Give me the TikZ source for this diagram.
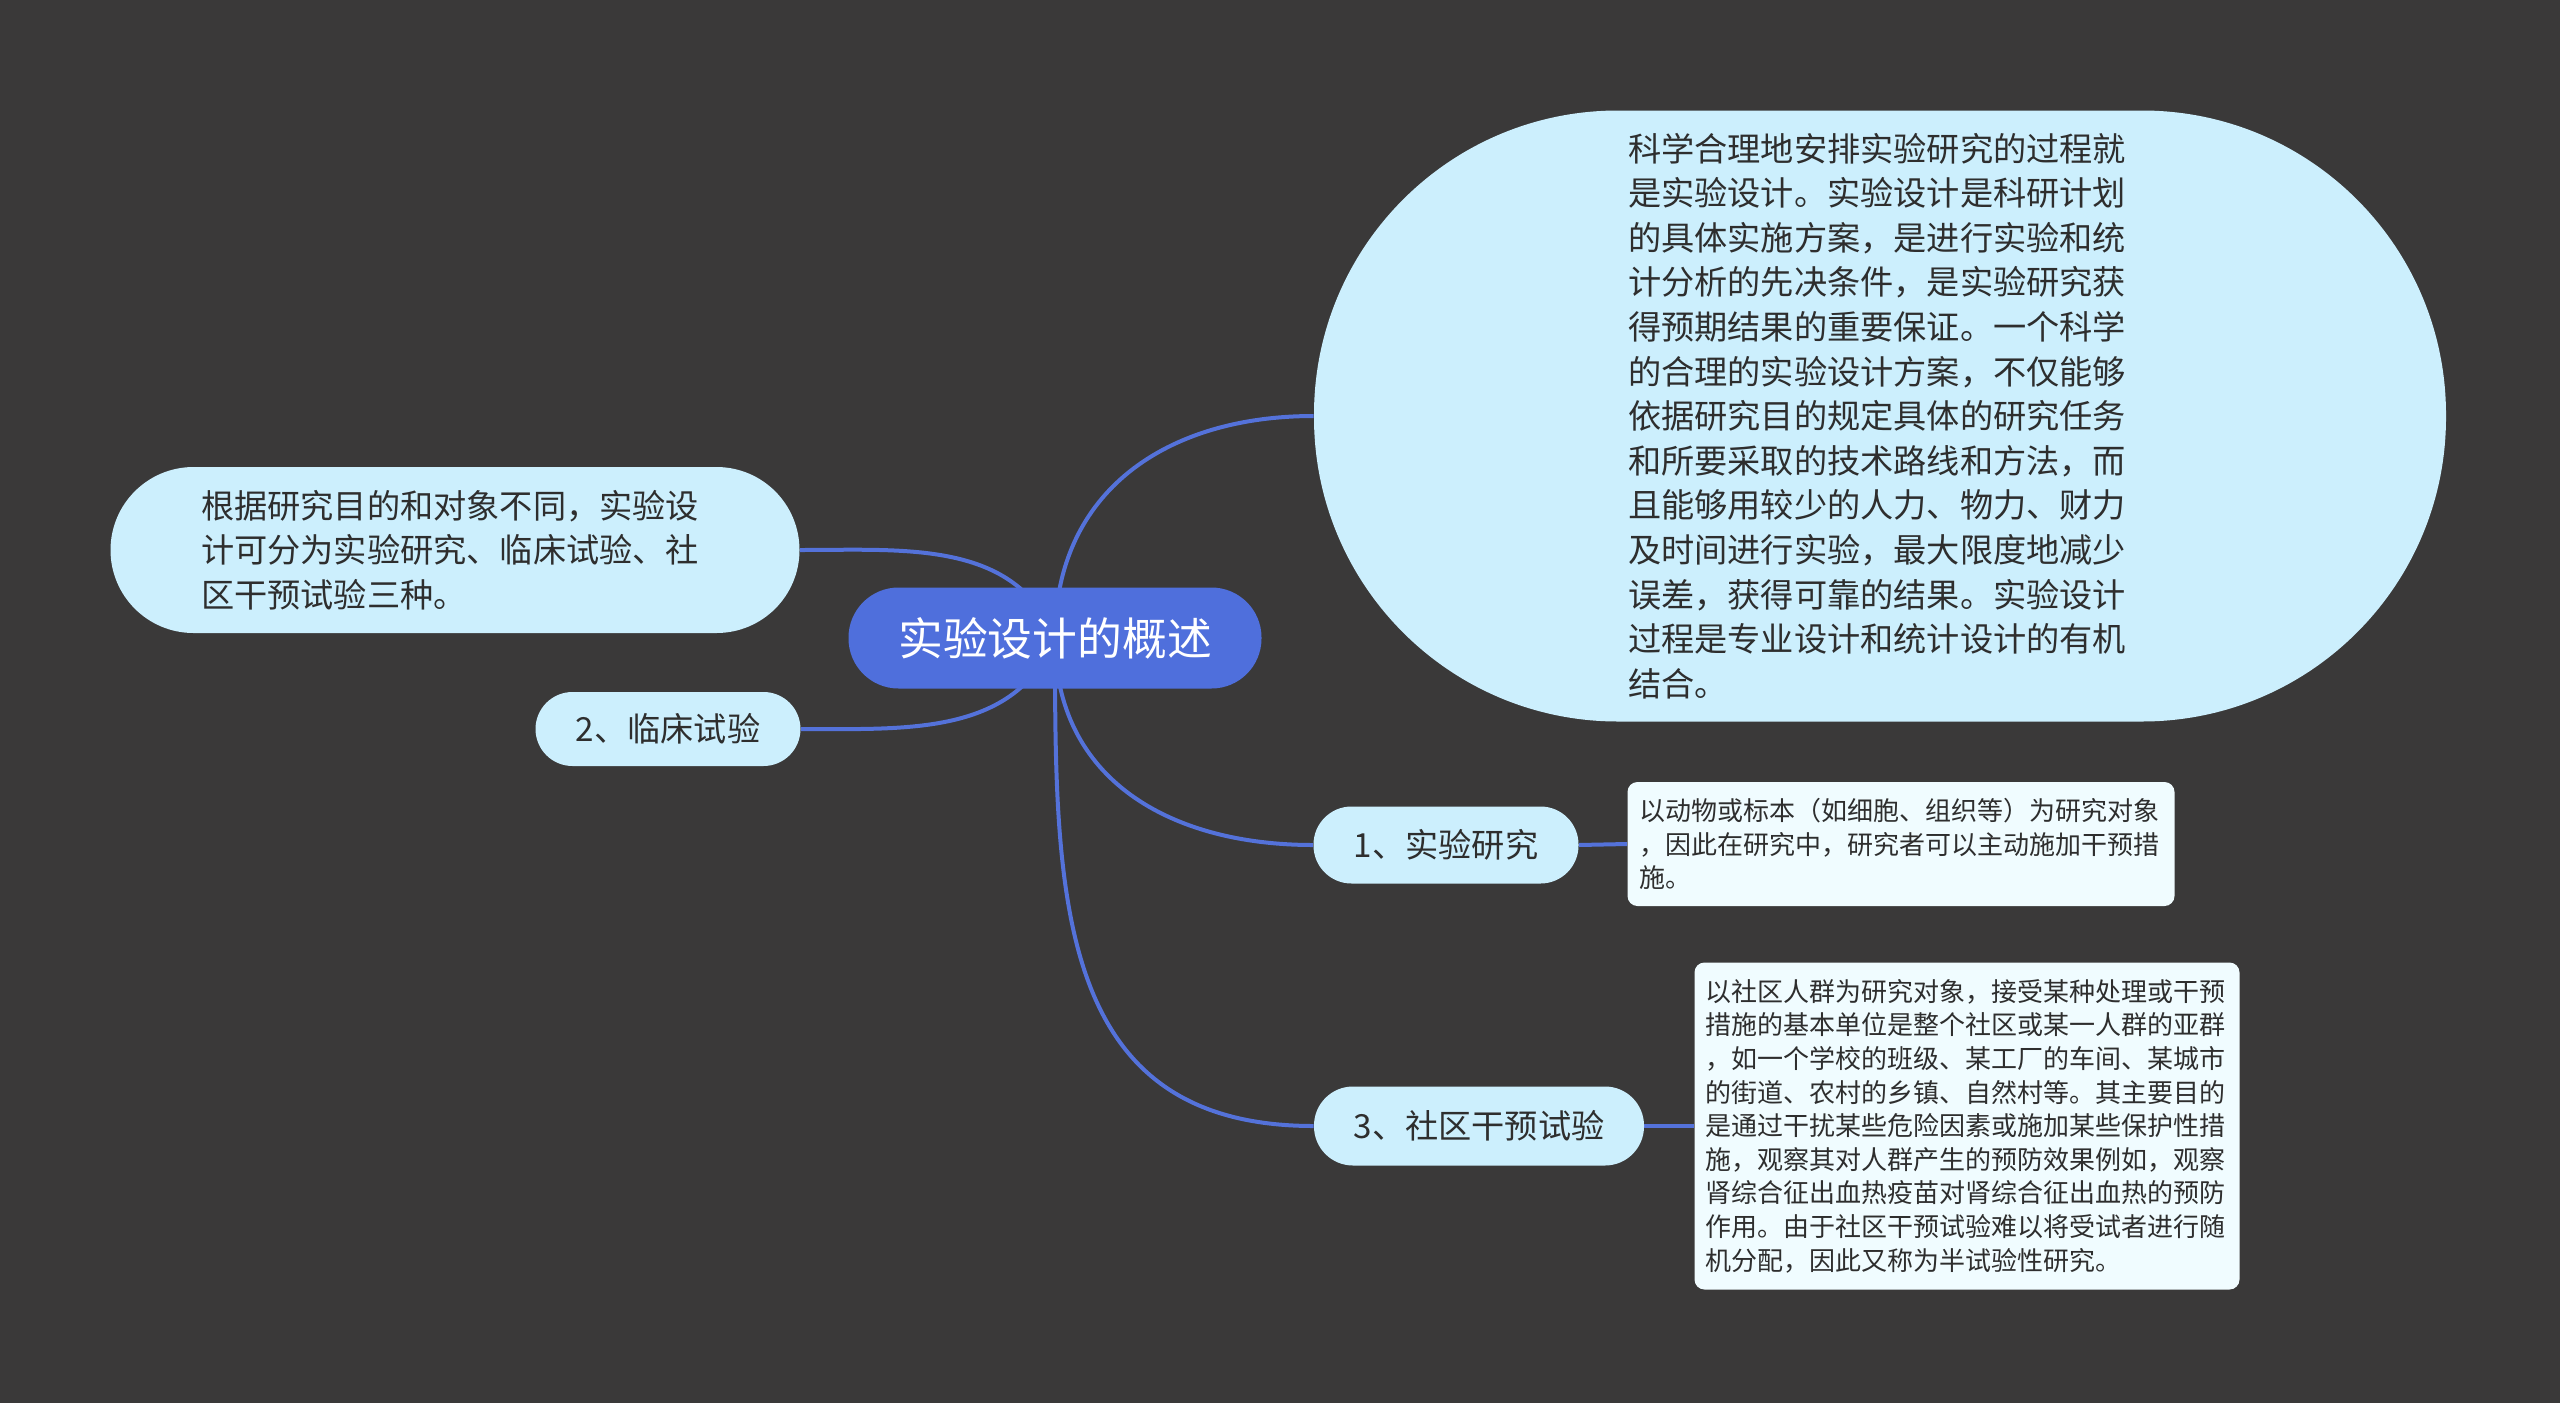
\documentclass[tikz,border=0pt]{standalone}
\usepackage{fontspec}
\setmainfont{Noto Sans CJK SC}
\usetikzlibrary{positioning,backgrounds}

\definecolor{bgdark}{HTML}{3A3939}
\definecolor{rootblue}{HTML}{4F6FDC}
\definecolor{linkblue}{HTML}{5472DA}
\definecolor{topicfill}{HTML}{CCEFFD}
\definecolor{notefill}{HTML}{F0FCFF}
\definecolor{inktext}{HTML}{2E2E2E}

\tikzset{
  rootnode/.style={fill=rootblue, text=white, inner sep=0pt,
    rounded corners=25pt, minimum width=206.5pt, minimum height=50.5pt,
    font=\fontsize{22.4}{26}\selectfont},
  topicnode/.style={fill=topicfill, text=inktext, inner sep=0pt, align=left,
    font=\fontsize{16.6}{22.3}\selectfont},
  notenode/.style={fill=notefill, text=inktext, inner sep=0pt, align=left,
    rounded corners=5pt, font=\fontsize{13}{16.8}\selectfont},
  link/.style={draw=linkblue, line width=2pt},
}

\begin{document}
\begin{tikzpicture}[x=0.5pt, y=-0.5pt]
  % background
  \begin{pgfonlayer}{background}
    \fill[bgdark] (0,0) rectangle (2560,1403);
  \end{pgfonlayer}

  % central topic
  \node[rootnode] (root) at (1055,638) {实验设计的概述};

  % main branches
  \node[topicnode, rounded corners=152pt, minimum width=566pt,
    minimum height=305.5pt, text width=252pt] (defn) at (1880,416)
    {科学合理地安排实验研究的过程就\\
     是实验设计。实验设计是科研计划\\
     的具体实施方案，是进行实验和统\\
     计分析的先决条件，是实验研究获\\
     得预期结果的重要保证。一个科学\\
     的合理的实验设计方案，不仅能够\\
     依据研究目的规定具体的研究任务\\
     和所要采取的技术路线和方法，而\\
     且能够用较少的人力、物力、财力\\
     及时间进行实验，最大限度地减少\\
     误差，获得可靠的结果。实验设计\\
     过程是专业设计和统计设计的有机\\
     结合。};
  \node[topicnode, rounded corners=41.5pt, minimum width=344.5pt,
    minimum height=83pt, text width=254pt] (kinds) at (455,550)
    {根据研究目的和对象不同，实验设\\
     计可分为实验研究、临床试验、社\\
     区干预试验三种。};
  \node[topicnode, rounded corners=18.5pt, minimum width=132.5pt,
    minimum height=37pt] (clinic) at (668,729) {2、临床试验};
  \node[topicnode, rounded corners=19pt, minimum width=132.5pt,
    minimum height=38.5pt] (lab) at (1446,845) {1、实验研究};
  \node[topicnode, rounded corners=19.5pt, minimum width=165pt,
    minimum height=39.5pt] (field) at (1479,1126) {3、社区干预试验};

  % notes
  \node[notenode, minimum width=273.5pt, minimum height=62pt,
    text width=262pt] (labnote) at (1901,844)
    {以动物或标本（如细胞、组织等）为研究对象\\
     ，因此在研究中，研究者可以主动施加干预措\\
     施。};
  \node[notenode, minimum width=272.5pt, minimum height=163.5pt,
    text width=262pt] (fieldnote) at (1967,1126)
    {以社区人群为研究对象，接受某种处理或干预\\
     措施的基本单位是整个社区或某一人群的亚群\\
     ，如一个学校的班级、某工厂的车间、某城市\\
     的街道、农村的乡镇、自然村等。其主要目的\\
     是通过干扰某些危险因素或施加某些保护性措\\
     施，观察其对人群产生的预防效果例如，观察\\
     肾综合征出血热疫苗对肾综合征出血热的预防\\
     作用。由于社区干预试验难以将受试者进行随\\
     机分配，因此又称为半试验性研究。};

  % connectors
  \begin{pgfonlayer}{background}
    \draw[link] (root.center) to[out=90, in=180, looseness=1.1] (defn.west);
    \draw[link] (root.center) to[out=-90, in=180, looseness=1.1] (lab.west);
    \draw[link] (root.center) to[out=-90, in=180, looseness=1.2] (field.west);
    \draw[link] (kinds.east) to[out=0, in=112] (root.center);
    \draw[link] (clinic.east) to[out=0, in=-112] (root.center);
    \draw[link] (lab.east) -- (labnote.west);
    \draw[link] (field.east) -- (fieldnote.west);
  \end{pgfonlayer}
\end{tikzpicture}
\end{document}
